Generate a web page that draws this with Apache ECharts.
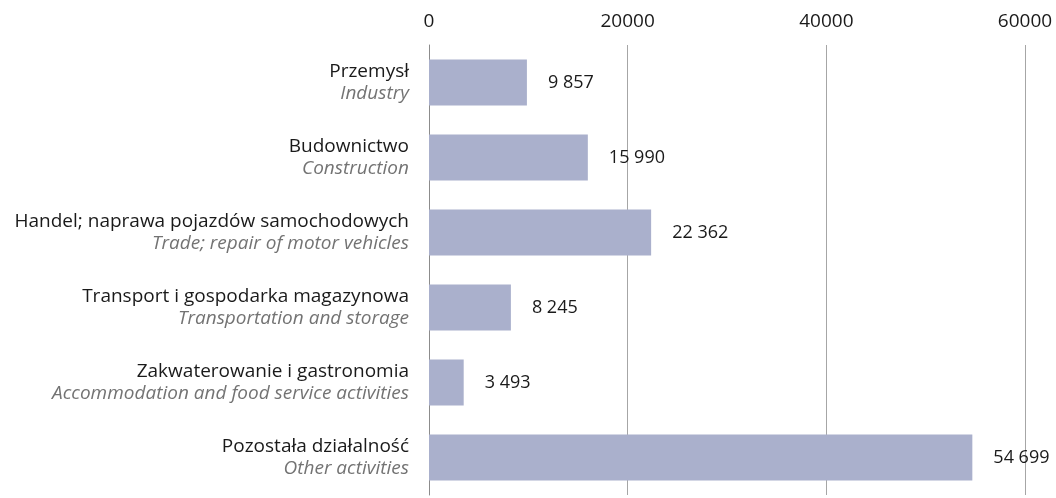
<!DOCTYPE html>
<html>
<head>
<meta charset="utf-8">
<script src="https://cdn.jsdelivr.net/npm/echarts@6/dist/echarts.min.js"></script>
<style>
  html, body { margin: 0; padding: 0; background: #ffffff; }
  #chart { width: 1056px; height: 498px; }
</style>
</head>
<body>
<div id="chart"></div>
<script>
// Sector names (Polish) and their English translations
const categoriesPl = [
  'Przemysł',
  'Budownictwo',
  'Handel; naprawa pojazdów samochodowych',
  'Transport i gospodarka magazynowa',
  'Zakwaterowanie i gastronomia',
  'Pozostała działalność'
];
const categoriesEn = [
  'Industry',
  'Construction',
  'Trade; repair of motor vehicles',
  'Transportation and storage',
  'Accommodation and food service activities',
  'Other activities'
];
const values = [9857, 15990, 22362, 8245, 3493, 54699];
const axisTicks = [0, 20000, 40000, 60000];

const FONT = '"Open Sans", sans-serif';

// thousands separated by a space, e.g. 54 699
function fmt(v) {
  return String(v).replace(/\B(?=(\d{3})+(?!\d))/g, ' ');
}

const chart = echarts.init(document.getElementById('chart'));
chart.setOption({
  animation: false,
  backgroundColor: '#ffffff',
  grid: { left: 429, right: 31, top: 45, bottom: 3, containLabel: false },
  xAxis: {
    type: 'value',
    position: 'top',
    min: axisTicks[0],
    max: axisTicks[axisTicks.length - 1],
    interval: axisTicks[1] - axisTicks[0],
    axisLine: { show: false },
    axisTick: { show: false },
    splitLine: { show: true, lineStyle: { color: '#a6a6a6', width: 1 } },
    axisLabel: {
      margin: 14,
      color: '#1a1a1a',
      fontFamily: FONT,
      fontSize: 19,
      formatter: v => String(v)
    }
  },
  yAxis: {
    type: 'category',
    inverse: true,
    data: categoriesPl,
    axisLine: { show: true, onZero: false, lineStyle: { color: '#8c8c8c', width: 1 } },
    axisTick: { show: false },
    splitLine: { show: false },
    axisLabel: {
      margin: 20,
      align: 'right',
      formatter: (v, i) => '{a|' + v + '}\n{b|' + categoriesEn[i] + '}',
      rich: {
        a: { fontFamily: FONT, fontSize: 19, color: '#1a1a1a', lineHeight: 22, align: 'right' },
        b: { fontFamily: FONT, fontSize: 19, fontStyle: 'italic', color: '#737373', lineHeight: 22, align: 'right' }
      }
    }
  },
  series: [{
    type: 'bar',
    data: values,
    barWidth: 46,
    itemStyle: { color: '#aab0cc' },
    label: {
      show: true,
      position: 'right',
      distance: 21,
      color: '#1a1a1a',
      fontFamily: FONT,
      fontSize: 18,
      formatter: p => fmt(p.value)
    }
  }]
});
</script>
</body>
</html>
